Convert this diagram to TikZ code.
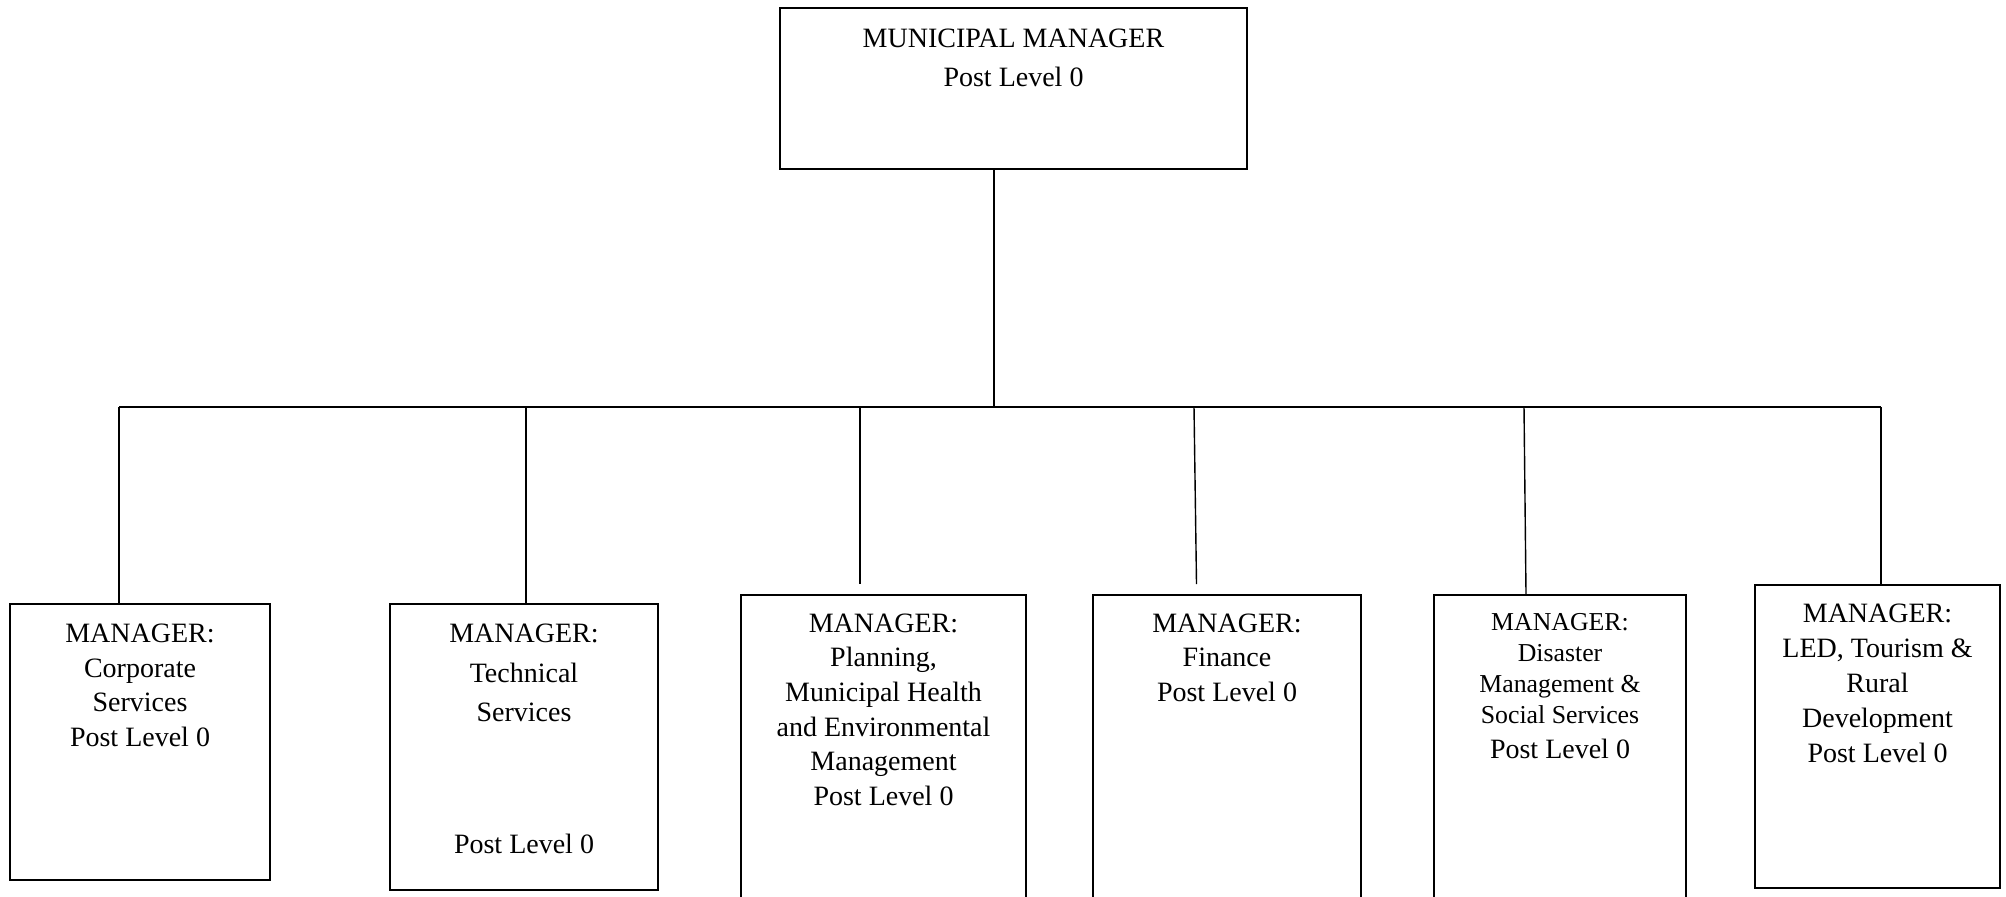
\documentclass[tikz,border=0pt]{standalone}
\usepackage{fontspec}
\setmainfont{Liberation Serif}
\begin{document}
\begin{tikzpicture}[x=0.5pt,y=-0.5pt,
  box/.style={draw, line width=1pt, inner sep=0pt},
  wire/.style={line width=0.7pt},
  lines/.style={align=center, inner sep=0pt, anchor=north, font=\fontsize{14}{17.3}\selectfont},
]
\useasboundingbox (0,0) rectangle (2006,896);

% top post
\node[box, minimum width=233.5pt, minimum height=80.5pt] (mm) at (1013.5,88.5) {};
\node[lines, font=\fontsize{14}{19.5}\selectfont] (mmtext) at ([yshift=-10.9pt]mm.north) {MUNICIPAL MANAGER\\Post Level 0};

% department managers
\node[box, minimum width=130pt, minimum height=138pt] (b1) at (140,742) {};
\node[lines] (t1) at ([yshift=-10.3pt]b1.north) {MANAGER:\\Corporate\\Services\\Post Level 0};

\node[box, minimum width=134pt, minimum height=143pt] (b2) at (524,747) {};
\node[lines, font=\fontsize{14}{19.75}\selectfont] (t2) at ([yshift=-10.3pt]b2.north) {MANAGER:\\Technical\\Services\\[46.25pt]Post Level 0};

\node[box, minimum width=142.5pt, minimum height=157.5pt] (b3) at (883.5,752.5) {};
\node[lines] (t3) at ([yshift=-9.7pt]b3.north) {MANAGER:\\Planning,\\Municipal Health\\and Environmental\\Management\\Post Level 0};

\node[box, minimum width=134pt, minimum height=157.5pt] (b4) at (1227,752.5) {};
\node[lines] (t4) at ([yshift=-9.7pt]b4.north) {MANAGER:\\Finance\\Post Level 0};

\node[box, minimum width=126pt, minimum height=157.5pt] (b5) at (1560,752.5) {};
\node[lines, font=\fontsize{12.9}{15.6}\selectfont] (t5) at ([yshift=-9.4pt]b5.north) {MANAGER:\\Disaster\\Management \&\\Social Services\\[1.5pt]{\fontsize{14}{17}\selectfont Post Level 0}};

\node[box, minimum width=122.5pt, minimum height=151.5pt] (b6) at (1877.5,736.5) {};
\node[lines, font=\fontsize{14}{17.5}\selectfont] (t6) at ([yshift=-9.6pt]b6.north) {MANAGER:\\LED, Tourism \&\\Rural\\Development\\Post Level 0};

% bus and drops
\coordinate (hub) at (994,407);
\coordinate (j1) at (119,407);
\coordinate (j2) at (526,407);
\coordinate (j3) at (860,407);
\coordinate (j4) at (1194,407);
\coordinate (j5) at (1524,407);
\coordinate (j6) at (1881,407);
\coordinate (e3) at (860,584);
\coordinate (e4) at (1196.5,584);

\draw[wire] ([xshift=107.5pt]mm.south west) -- (hub);
\draw[wire] (j1) -- (j6);
\draw[wire] (j1) -- (j1 |- b1.north);
\draw[wire] (j2) -- (j2 |- b2.north);
\draw[wire] (j3) -- (e3);
\draw[wire] (j4) -- (e4);
\draw[wire] (j5) -- ([xshift=46.5pt]b5.north west);
\draw[wire] (j6) -- (j6 |- b6.north);
\end{tikzpicture}
\end{document}
